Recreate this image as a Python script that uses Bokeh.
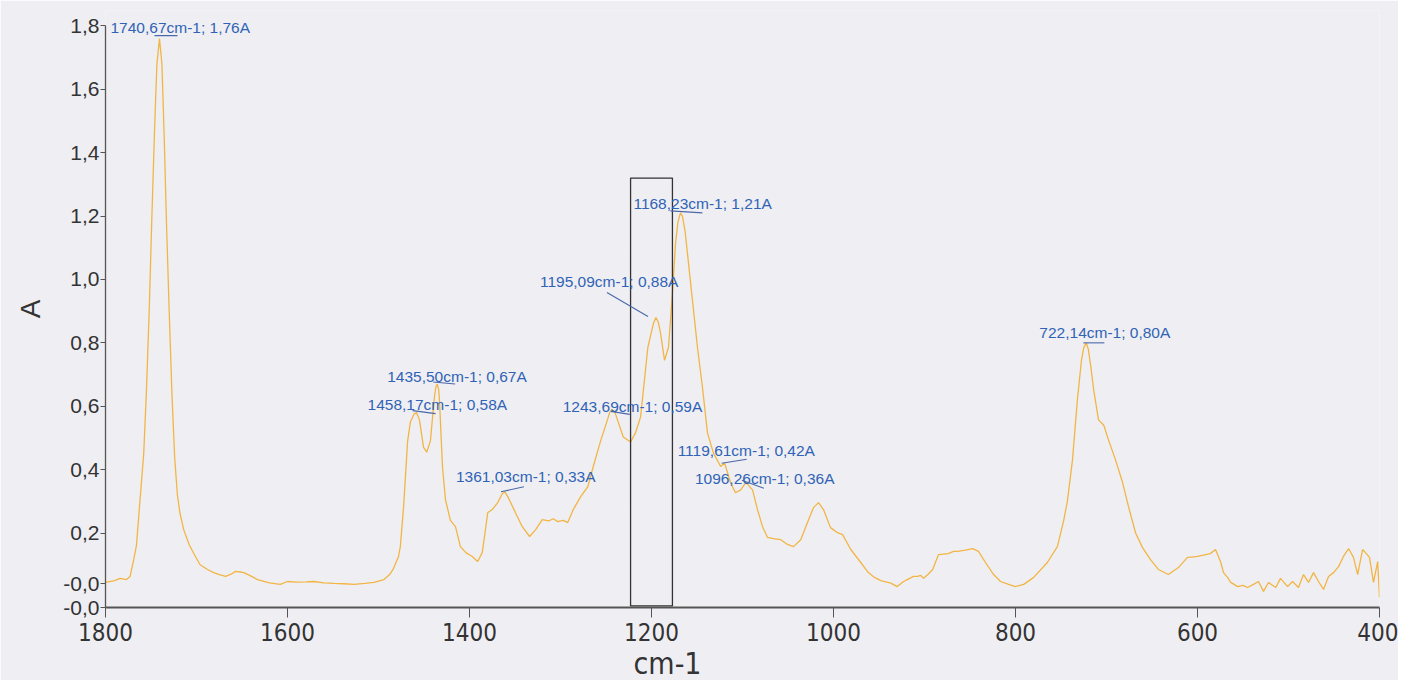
from bokeh.plotting import figure
from bokeh.models import Range1d, FixedTicker, CustomJSTickFormatter, LabelSet, ColumnDataSource, Title
from bokeh.embed import file_html
from bokeh.resources import INLINE
from bokeh.core.properties import value

# ---------------- data ----------------
WN = [1800, 1790, 1784, 1777, 1773, 1769, 1766, 1763, 1758, 1755, 1752, 1749, 1746, 1743.5,
      1740.67, 1738, 1735.5, 1733, 1730, 1727, 1724, 1721, 1718, 1714, 1708, 1702, 1696, 1688,
      1681, 1674, 1668, 1662, 1657, 1652, 1648, 1640, 1633, 1620, 1608, 1600, 1590, 1580, 1571,
      1560, 1549, 1538, 1527, 1515, 1505, 1494, 1488, 1484, 1478, 1476, 1472.5, 1468, 1465,
      1461, 1458.17, 1455, 1450.5, 1447, 1443, 1438.5, 1437, 1435.5, 1434, 1433, 1429.7, 1426.4,
      1421, 1415.4, 1410, 1404, 1397, 1391, 1386, 1382, 1380, 1375, 1369, 1364, 1361.03, 1357,
      1349.5, 1342, 1334, 1327.5, 1320, 1313, 1308, 1303, 1297, 1292, 1286, 1278, 1270, 1264,
      1256, 1248.4, 1246, 1243.69, 1240, 1237.4, 1231, 1223, 1217.6, 1212, 1204, 1198, 1195.09,
      1192.5, 1190, 1185.7, 1181.3, 1177, 1173.6, 1171, 1168.23, 1166, 1163, 1160.4, 1155,
      1149.5, 1144, 1138.5, 1132, 1124, 1119.61, 1113, 1107.7, 1102, 1096.26, 1089, 1083.5,
      1078, 1072.5, 1066, 1058, 1050.5, 1044, 1036, 1028.6, 1022, 1016.5, 1011, 1003.3, 995.6,
      990, 981, 970, 962.6, 955, 948, 937, 930, 923, 919, 912, 907.7, 904, 901, 896, 891, 884.6,
      874, 868, 863.7, 855, 847, 840.7, 833, 824, 816.5, 807.7, 800, 791, 780, 765, 754, 747,
      743, 737.4, 732, 727.5, 725, 722.14, 720, 717, 714, 708.8, 703, 697.8, 690, 682.4, 675.8,
      668, 660.4, 651.6, 643, 632, 621, 611, 604, 600, 593.4, 586, 580.2, 574.7, 571.4, 567,
      563.7, 556, 550, 545, 538.5, 533, 527.5, 522, 514, 508.8, 501, 495.6, 489, 483.5, 478,
      472.5, 467, 461.5, 456, 450.5, 445, 439.6, 434, 428.6, 424, 418.6, 415.4, 411, 406.6, 402,
      400]
ABS = [0.044, 0.050, 0.057, 0.053, 0.063, 0.116, 0.16, 0.27, 0.45, 0.65, 0.90, 1.20, 1.48, 1.68,
       1.76, 1.68, 1.45, 1.18, 0.90, 0.64, 0.44, 0.32, 0.26, 0.21, 0.163, 0.13, 0.10, 0.085,
       0.075, 0.068, 0.063, 0.07, 0.079, 0.077, 0.075, 0.064, 0.053, 0.043, 0.038, 0.047, 0.045,
       0.046, 0.047, 0.043, 0.041, 0.040, 0.038, 0.041, 0.044, 0.053, 0.068, 0.085, 0.126, 0.157,
       0.28, 0.49, 0.55, 0.575, 0.58, 0.557, 0.47, 0.455, 0.49, 0.63, 0.66, 0.67, 0.655, 0.62,
       0.41, 0.305, 0.24, 0.22, 0.157, 0.138, 0.126, 0.11, 0.138, 0.22, 0.264, 0.274, 0.296,
       0.324, 0.33, 0.31, 0.264, 0.22, 0.189, 0.21, 0.242, 0.238, 0.245, 0.236, 0.24, 0.233,
       0.274, 0.314, 0.346, 0.41, 0.49, 0.557, 0.58, 0.59, 0.58, 0.557, 0.503, 0.487, 0.516,
       0.566, 0.786, 0.86, 0.88, 0.865, 0.83, 0.745, 0.786, 0.956, 1.113, 1.18, 1.21, 1.20, 1.15,
       1.08, 0.934, 0.786, 0.66, 0.516, 0.453, 0.41, 0.42, 0.358, 0.327, 0.336, 0.36, 0.336,
       0.274, 0.22, 0.186, 0.182, 0.179, 0.164, 0.157, 0.179, 0.233, 0.28, 0.296, 0.274, 0.217,
       0.201, 0.195, 0.148, 0.107, 0.078, 0.06, 0.05, 0.042, 0.031, 0.047, 0.053, 0.063, 0.063,
       0.066, 0.057, 0.07, 0.085, 0.132, 0.135, 0.142, 0.142, 0.146, 0.151, 0.142, 0.107, 0.069,
       0.047, 0.038, 0.031, 0.038, 0.06, 0.107, 0.157, 0.24, 0.30, 0.43, 0.62, 0.745, 0.785,
       0.80, 0.78, 0.72, 0.65, 0.557, 0.54, 0.494, 0.43, 0.36, 0.283, 0.20, 0.154, 0.116, 0.085,
       0.069, 0.091, 0.123, 0.125, 0.126, 0.13, 0.135, 0.148, 0.11, 0.075, 0.06, 0.045, 0.031,
       0.035, 0.028, 0.038, 0.047, 0.016, 0.044, 0.028, 0.057, 0.031, 0.047, 0.028, 0.069,
       0.044, 0.075, 0.047, 0.022, 0.063, 0.075, 0.094, 0.126, 0.151, 0.123, 0.069, 0.148, 0.138,
       0.123, 0.044, 0.11, -0.003]

PEAK_WN = [1740.67, 1458.17, 1435.50, 1361.03, 1243.69, 1195.09, 1168.23, 1119.61, 1096.26, 722.14]
PEAK_A = [1.76, 0.58, 0.67, 0.33, 0.59, 0.88, 1.21, 0.42, 0.36, 0.80]

X_TICKS = [1800, 1600, 1400, 1200, 1000, 800, 600, 400]
Y_TICKS = [-0.035, 0.04, 0.2, 0.4, 0.6, 0.8, 1.0, 1.2, 1.4, 1.6, 1.8]

BOX_WN = [1223, 1177]
BOX_A = [-0.03, 1.32]

X_TITLE = "cm-1"
Y_TITLE = "A"

# ---------------- layout (pixel offsets of annotations) ----------------
LABEL_DX = [-49, -49, -50, -49, -49, -116, -47, -47, -51, -47]
LABEL_DY = [-11, -8, -8, -15, -3, -36, -9, -13, -4, -10]
LEAD_X0 = [-5, -4, -4, -4, -1, -49, -10, -3, -4, -3]
LEAD_Y0 = [-3, -2, -2, 0, 2, -25, -2, 0, -2, 0]
LEAD_X1 = [18, 19, 18, 19, 18, -8, 22, 22, 18, 18]
LEAD_Y1 = [-3, 1, 0, -5, 5, -1, 0, -4, 6, 0]

W, H = 1398, 680
BL, BR, BT, BB = 105, 19, 10, 71
X0, X1 = 1800, 400
Y0, YTOP = -0.035, 1.8
FW, FH = W - BL - BR, H - BT - BB
XPX = FW / (X0 - X1)
YPX = 318.0
Y1 = Y0 + FH / YPX   # a little head-room above 1,8 for the top label

BG = "#efeff3"
AXC = "#555555"
TXT = "#333333"
BLUE = "#2f63b6"
NARROW = "Liberation Sans Narrow, DejaVu Sans Condensed, Arial Narrow, sans-serif"

p = figure(width=W, height=H, output_backend="svg", toolbar_location=None,
           x_range=Range1d(X0, X1), y_range=Range1d(Y0, Y1),
           min_border_left=BL, min_border_right=BR, min_border_top=BT, min_border_bottom=BB,
           background_fill_color=BG, border_fill_color=BG, outline_line_color=None)
p.grid.visible = False

p.line(WN, ABS, line_color="#f2b544", line_width=1.3)
p.quad(left=[BOX_WN[0]], right=[BOX_WN[1]], bottom=[BOX_A[0]], top=[BOX_A[1]],
       fill_alpha=0, line_color="#333333", line_width=1.3)

# leader lines
lx0 = [w - dx / XPX for w, dx in zip(PEAK_WN, LEAD_X0)]
lx1 = [w - dx / XPX for w, dx in zip(PEAK_WN, LEAD_X1)]
ly0 = [a - dy / YPX for a, dy in zip(PEAK_A, LEAD_Y0)]
ly1 = [a - dy / YPX for a, dy in zip(PEAK_A, LEAD_Y1)]
p.segment(x0=lx0, y0=ly0, x1=lx1, y1=ly1, line_color="#4a68a8", line_width=1.1)


def fmt(v):
    return f"{v:.2f}".replace(".", ",")


labels = [f"{fmt(w)}cm-1; {fmt(a)}A" for w, a in zip(PEAK_WN, PEAK_A)]
src = ColumnDataSource(dict(x=PEAK_WN, y=PEAK_A, text=labels,
                            dx=LABEL_DX, dy=[-d for d in LABEL_DY]))
ls = LabelSet(x="x", y="y", text="text", x_offset="dx", y_offset="dy", source=src,
              text_color=BLUE, text_font_size=value("15.5px"), text_font=value("Liberation Sans"),
              text_align="left", text_baseline="middle")
p.add_layout(ls)

# axes
xa = p.xaxis[0]
xa.ticker = FixedTicker(ticks=X_TICKS)
xa.axis_line_color = AXC
xa.axis_line_width = 2
xa.major_tick_line_color = AXC
xa.major_tick_out = 10
xa.major_tick_in = 0
xa.minor_tick_line_color = None
xa.major_label_text_font = NARROW
xa.major_label_text_font_size = "24px"
xa.major_label_text_color = TXT
xa.major_label_standoff = 5

ya = p.yaxis[0]
ya.bounds = (Y0, YTOP)
ya.ticker = FixedTicker(ticks=Y_TICKS)
ya.formatter = CustomJSTickFormatter(
    code="if (tick < 0.1) { return '-0,0'; } return tick.toFixed(1).replace('.', ',');")
ya.axis_line_color = AXC
ya.axis_line_width = 1.3
ya.major_tick_line_color = AXC
ya.major_tick_out = 5
ya.major_tick_in = 0
ya.minor_tick_line_color = None
ya.major_label_text_font = "Liberation Sans"
ya.major_label_text_font_size = "21px"
ya.major_label_text_color = TXT
ya.major_label_standoff = 1
ya.axis_label = Y_TITLE
ya.axis_label_text_font = "Liberation Sans"
ya.axis_label_text_font_style = "normal"
ya.axis_label_text_font_size = "28px"
ya.axis_label_text_color = TXT
ya.axis_label_standoff = 14

# x title placed like the reference (left of centre)
xt = Title(text=X_TITLE, align="left", offset=528, text_font=NARROW, text_font_size="30px",
           text_font_style="normal", text_color=TXT, standoff=0)
p.add_layout(xt, "below")

open("out.html", "w").write(file_html(p, INLINE))
